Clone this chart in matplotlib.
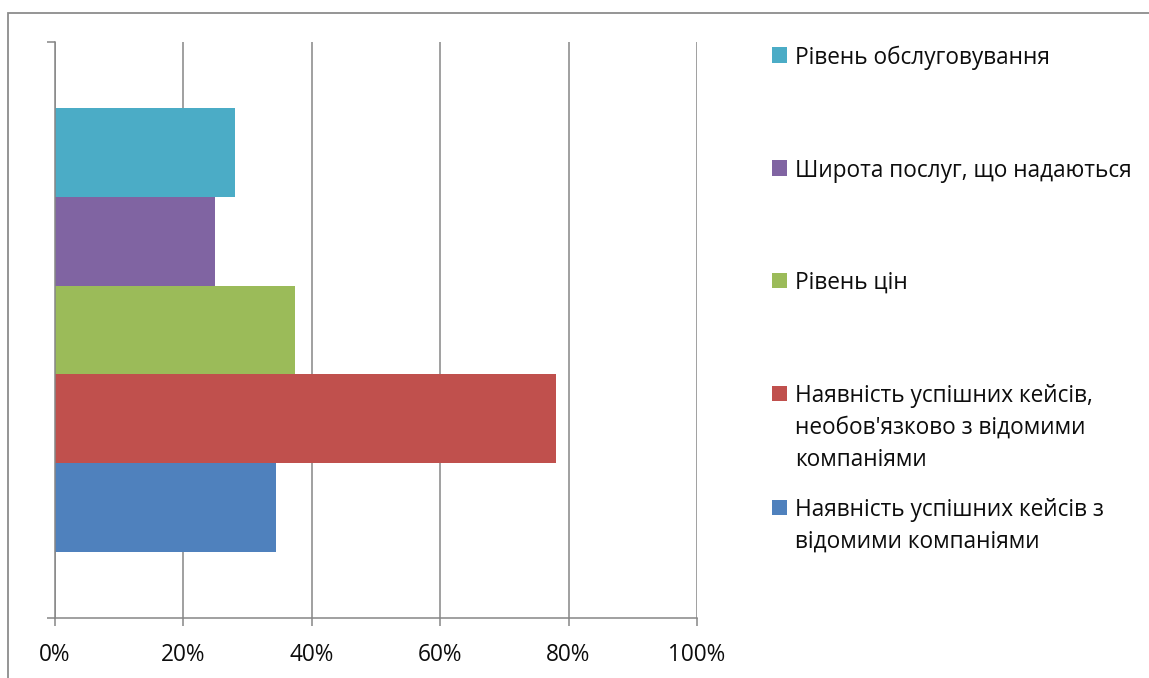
import matplotlib
matplotlib.use("Agg")
import matplotlib.pyplot as plt
from matplotlib.patches import Rectangle

plt.rcParams['font.family'] = ['Open Sans', 'DejaVu Sans']

# Series, bottom to top as drawn
labels = [
    "Наявність успішних кейсів з\nвідомими компаніями",
    "Наявність успішних кейсів,\nнеобов'язково з відомими\nкомпаніями",
    "Рівень цін",
    "Широта послуг, що надаються",
    "Рівень обслуговування",
]
values = [34.4, 78.1, 37.5, 25.0, 28.1]
colors = ["#4F81BD", "#C0504D", "#9BBB59", "#8064A2", "#4BACC6"]
x_ticks = [0, 20, 40, 60, 80, 100]
x_tick_labels = ["0%", "20%", "40%", "60%", "80%", "100%"]

W, H = 1149, 678
fig = plt.figure(figsize=(W / 100, H / 100), dpi=100)
fig.patch.set_facecolor("white")

def fx(px):
    return px / W

def fy(py):
    return 1 - py / H

grey = "#868686"
text_color = "#0d0d0d"
font_size = 16.3

# chart frame (open to the right and bottom)
fig.patches.append(Rectangle((fx(8), fy(H + 20)), fx(W + 20), (H + 20 - 13) / H,
                             transform=fig.transFigure, fill=False,
                             edgecolor="#8c8c8c", linewidth=1.3))

ax = fig.add_axes([fx(54.5), fy(618), fx(697) - fx(54.5), (618 - 42) / H])

positions = list(range(len(values)))
gap = 0.743
ax.barh(positions, values, height=1.0, color=colors, linewidth=0, zorder=2)

ax.set_xlim(0, 100)
ax.set_ylim(-0.5 - gap, len(values) - 0.5 + gap)

ax.set_axisbelow(True)
ax.xaxis.grid(True, color=grey, linewidth=1.1)
ax.yaxis.grid(False)

for side in ("top", "right"):
    ax.spines[side].set_visible(False)
for side in ("left", "bottom"):
    ax.spines[side].set_color(grey)
    ax.spines[side].set_linewidth(1.1)

ax.set_xticks(x_ticks)
ax.set_xticklabels(x_tick_labels)
ax.tick_params(axis="x", direction="out", length=5.8, width=1.1, color=grey,
               labelsize=font_size, pad=12, labelcolor=text_color)
ax.set_yticks(list(ax.get_ylim()))
ax.set_yticklabels([])
ax.tick_params(axis="y", direction="out", length=5.8, width=1.1, color=grey)
ax.set_facecolor("white")

# legend, top entry first
entry_y = [55, 168, 280, 393, 507]
line_step = 32
for k, idx in enumerate(reversed(positions)):
    cy = entry_y[k]
    fig.patches.append(Rectangle((fx(772), fy(cy + 7.5)), fx(15), 15 / H,
                                 transform=fig.transFigure,
                                 facecolor=colors[idx], edgecolor="none"))
    for j, line in enumerate(labels[idx].split("\n")):
        fig.text(fx(795), fy(cy + j * line_step), line, fontsize=font_size,
                 va="center_baseline", ha="left", color=text_color)

fig.savefig("out.png", dpi=100)
